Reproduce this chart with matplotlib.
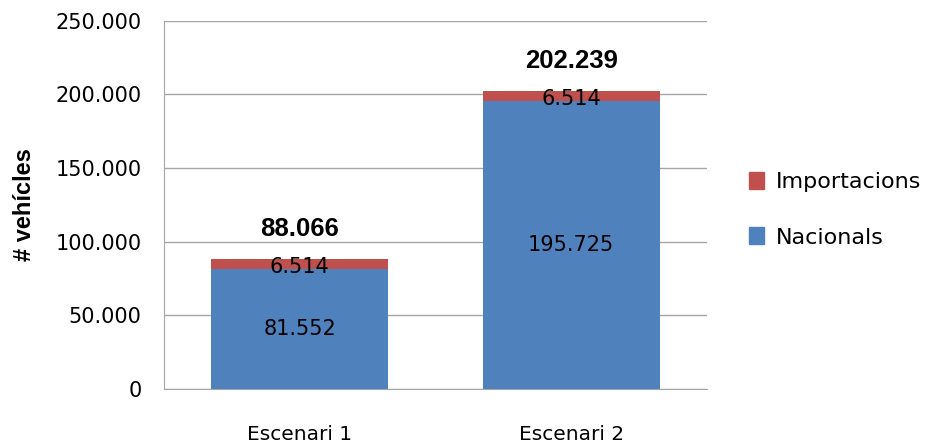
import numpy as np
import matplotlib
matplotlib.use("Agg")
import matplotlib.pyplot as plt
from matplotlib.patches import Patch

# dades
escenaris = ["Escenari 1", "Escenari 2"]
nacionals = [81552, 195725]
importacions = [6514, 6514]
totals = [88066, 202239]
yticks = [0, 50000, 100000, 150000, 200000, 250000]


def fmt(v):
    # separador de milers amb punt
    return f"{v:,}".replace(",", ".")


plt.rcParams['font.family'] = ['DejaVu Sans']

fig = plt.figure(figsize=(9.38, 4.46), dpi=100)
ax = fig.add_axes([0.1748, 0.1278, 0.579, 0.8258])

x = np.arange(len(escenaris))
blau = '#4F81BD'
vermell = '#C0504D'
ax.bar(x, nacionals, width=0.65, color=blau, zorder=3)
ax.bar(x, importacions, width=0.65, bottom=nacionals, color=vermell, zorder=3)

for i in range(len(escenaris)):
    ax.text(x[i], nacionals[i] / 2, fmt(nacionals[i]), ha='center', va='center',
            fontsize=15, zorder=4)
    ax.text(x[i], nacionals[i] + importacions[i] / 2 - 2000, fmt(importacions[i]),
            ha='center', va='center', fontsize=15, zorder=4)
    ax.annotate(fmt(totals[i]), (x[i], totals[i]), xytext=(0, 22),
                textcoords='offset points', ha='center', va='center',
                fontsize=18.5, fontweight='bold', family='Liberation Sans', zorder=4)

ax.set_xlim(-0.5, 1.5)
ax.set_ylim(0, 250000)
ax.set_yticks(yticks)
ax.set_yticklabels([fmt(v) for v in yticks], fontsize=15)
ax.set_xticks(x)
ax.set_xticklabels(escenaris, fontsize=14.5)
ax.tick_params(axis='y', length=0, pad=16)
ax.tick_params(axis='x', length=0, pad=26)
ax.yaxis.grid(True, color='#A6A6A6', linewidth=1.0, zorder=0)
ax.set_axisbelow(True)
for s in ['top', 'right']:
    ax.spines[s].set_visible(False)
ax.spines['left'].set_color('#A6A6A6')
ax.spines['bottom'].set_color('#A6A6A6')

ax.set_ylabel('# vehícles', fontsize=17, fontweight='bold',
              family='Liberation Sans', labelpad=14)

handles = [Patch(color=vermell), Patch(color=blau)]
fig.legend(handles, ['Importacions', 'Nacionals'], loc='center left',
           bbox_to_anchor=(0.777, 0.53), frameon=False, fontsize=16,
           handlelength=0.7, handleheight=0.8, handletextpad=0.5, labelspacing=1.6)

fig.savefig('out.png', dpi=100)
